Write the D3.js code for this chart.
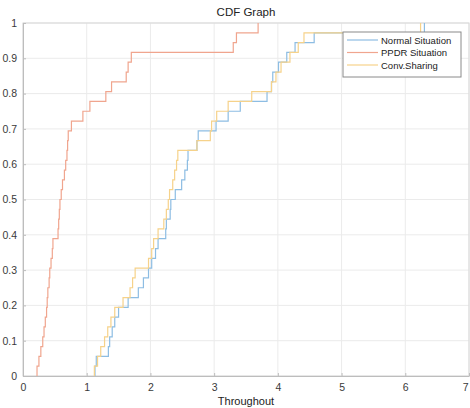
<!DOCTYPE html>
<html><head><meta charset="utf-8">
<script src="https://cdn.jsdelivr.net/npm/d3@7"></script>
<style>body{margin:0;background:#fff}svg{display:block;font-family:"Liberation Sans",Arial,sans-serif}</style>
</head><body><svg id="c" width="470" height="408"></svg>
<script>
const seriesNames = ["Normal Situation", "PPDR Situation", "Conv.Sharing"];
const seriesColors = ["#8dbde3", "#f0a58e", "#f6d28a"];
const normalSamples = [1.13,1.15,1.34,1.36,1.40,1.44,1.50,1.65,1.81,1.89,1.97,2.02,2.08,2.12,2.24,2.25,2.31,2.32,2.39,2.49,2.54,2.58,2.59,2.73,2.75,3.03,3.22,3.41,3.83,3.90,3.92,4.01,4.14,4.27,4.57,6.30];
const ppdrSamples = [0.22,0.25,0.28,0.31,0.33,0.35,0.37,0.38,0.39,0.41,0.42,0.44,0.46,0.47,0.55,0.56,0.57,0.58,0.60,0.62,0.65,0.67,0.69,0.70,0.71,0.76,0.94,1.05,1.30,1.39,1.62,1.65,1.70,3.30,3.35,3.69];
const convSamples = [1.12,1.17,1.22,1.28,1.33,1.38,1.44,1.57,1.68,1.72,1.76,1.97,2.02,2.05,2.12,2.21,2.25,2.28,2.30,2.35,2.38,2.41,2.43,2.73,2.94,2.96,3.04,3.22,3.59,3.90,3.97,4.05,4.19,4.32,4.41,6.24];
const xTicks = [0,1,2,3,4,5,6,7];
const xTickLabels = ["0","1","2","3","4","5","6","7"];
const yTicks = [0,0.1,0.2,0.3,0.4,0.5,0.6,0.7,0.8,0.9,1];
const yTickLabels = ["0","0.1","0.2","0.3","0.4","0.5","0.6","0.7","0.8","0.9","1"];
const titleText = "CDF Graph";
const xLabelText = "Throughout";

const svg = d3.select("#c");
const L = 23, R = 469, T = 23, B = 376;
const x = d3.scaleLinear().domain([0,7]).range([L,R]);
const y = d3.scaleLinear().domain([0,1]).range([B,T]);

// grid
svg.append("g").selectAll("line").data(xTicks).join("line")
  .attr("x1",d=>x(d)).attr("x2",d=>x(d)).attr("y1",T).attr("y2",B)
  .attr("stroke","#ebebeb").attr("stroke-width",1);
svg.append("g").selectAll("line").data(yTicks).join("line")
  .attr("y1",d=>y(d)).attr("y2",d=>y(d)).attr("x1",L).attr("x2",R)
  .attr("stroke","#ebebeb").attr("stroke-width",1);

// box
svg.append("rect").attr("x",L).attr("y",T).attr("width",R-L).attr("height",B-T)
  .attr("fill","none").attr("stroke","#d8d8d8").attr("stroke-width",1);

// axes
const xAxis = d3.axisBottom(x).tickValues(xTicks).tickFormat((d,i)=>xTickLabels[i]).tickSizeInner(-3).tickSizeOuter(0).tickPadding(8);
const gx = svg.append("g").attr("transform",`translate(0,${B})`).call(xAxis);
const yAxis = d3.axisLeft(y).tickValues(yTicks).tickFormat((d,i)=>yTickLabels[i]).tickSizeInner(-3).tickSizeOuter(0).tickPadding(6);
const gy = svg.append("g").attr("transform",`translate(${L},0)`).call(yAxis);
[gx,gy].forEach(g=>{
  g.select(".domain").attr("stroke","#bdbdbd");
  g.selectAll(".tick line").attr("stroke","#bdbdbd");
  g.selectAll("text").attr("fill","#3a3a3a").attr("font-size",10.5).attr("font-family","Liberation Sans, Arial, sans-serif");
});
// keep last x label inside the window
gx.selectAll(".tick text").filter(d=>d===7).attr("text-anchor","end").attr("dx","-1");

// CDF lines
function cdfPoints(s){
  const n = s.length, pts = [[s[0],0]];
  s.forEach((v,i)=>{ pts.push([v,(i+1)/n]); });
  return pts;
}
const line = d3.line().x(d=>x(d[0])).y(d=>y(d[1])).curve(d3.curveStepAfter);
const allSeries = [normalSamples, ppdrSamples, convSamples];
allSeries.forEach((s,i)=>{
  svg.append("path").datum(cdfPoints(s)).attr("d",line)
    .attr("fill","none").attr("stroke",seriesColors[i]).attr("stroke-width",1.2);
});

// title & x label
svg.append("text").attr("x",(L+R)/2).attr("y",16).attr("text-anchor","middle")
  .attr("font-size",11.5).attr("fill","#222").text(titleText);
svg.append("text").attr("x",(L+R)/2).attr("y",405).attr("text-anchor","middle")
  .attr("font-size",11).attr("fill","#222").text(xLabelText);

// legend
const lg = svg.append("g");
lg.append("rect").attr("x",343).attr("y",32).attr("width",118).attr("height",45)
  .attr("fill","#fff").attr("stroke","#8a8a8a").attr("stroke-width",1);
seriesNames.forEach((name,i)=>{
  const yy = 40 + i*12.5;
  lg.append("line").attr("x1",347).attr("x2",378).attr("y1",yy).attr("y2",yy)
    .attr("stroke",seriesColors[i]).attr("stroke-width",1.2);
  lg.append("text").attr("x",381).attr("y",yy+3.5).attr("font-size",9.5).attr("fill","#222").text(name);
});
</script></body></html>
